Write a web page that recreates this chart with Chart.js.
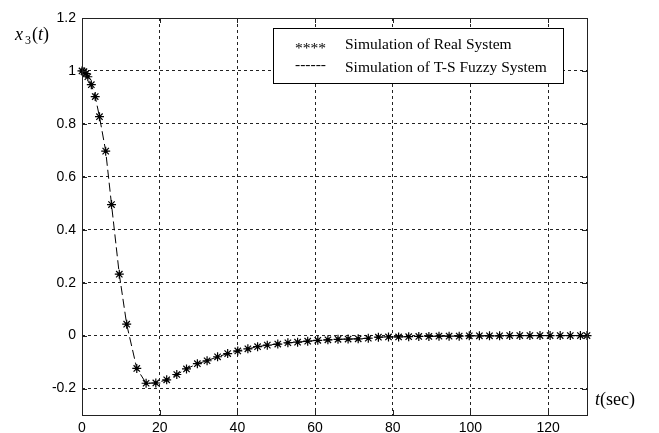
<!DOCTYPE html>
<html>
<head>
<meta charset="utf-8">
<script src="https://cdn.jsdelivr.net/npm/chart.js@4.4.0/dist/chart.umd.min.js"></script>
<style>
  html, body { margin: 0; padding: 0; background: #fff; }
  #wrap { width: 659px; height: 433px; }
</style>
</head>
<body>
<div id="wrap"><canvas id="myChart" width="659" height="433"></canvas></div>
<script>
// time samples (sec)
var timeSec = [0, 0.5, 1.0, 1.5, 2.4, 3.4, 4.5, 6.1, 7.6, 9.6, 11.5, 14.1, 16.5, 19.0,
  21.8, 24.4, 26.9, 29.7, 32.2, 34.9, 37.5, 40.1, 42.7, 45.2, 47.7, 50.4, 53.0, 55.5,
  58.1, 60.7, 63.3, 65.9, 68.5, 71.1, 73.7, 76.3, 78.9, 81.5, 84.1, 86.7, 89.3, 91.9,
  94.5, 97.1, 99.7, 102.3, 104.9, 107.5, 110.1, 112.7, 115.3, 117.9, 120.5, 123.1,
  125.7, 128.3, 130];

// x3(t), real system (stars)
var realX3 = [1.0, 0.997, 0.99, 0.978, 0.948, 0.903, 0.827, 0.697, 0.495, 0.232, 0.043,
  -0.124, -0.180, -0.179, -0.167, -0.147, -0.126, -0.106, -0.095, -0.080, -0.068, -0.058,
  -0.050, -0.042, -0.036, -0.032, -0.027, -0.025, -0.021, -0.018, -0.016, -0.014, -0.013,
  -0.012, -0.010, -0.006, -0.005, -0.005, -0.004, -0.003, -0.003, -0.002, -0.002, -0.002,
  -0.001, -0.001, -0.001, -0.001, 0, 0, 0, 0, 0, 0, 0, 0, 0];

// x3(t), T-S fuzzy system (dashed line)
var fuzzyX3 = [1.0, 0.997, 0.99, 0.978, 0.948, 0.903, 0.827, 0.697, 0.495, 0.232, 0.043,
  -0.124, -0.180, -0.179, -0.167, -0.147, -0.126, -0.106, -0.095, -0.080, -0.068, -0.058,
  -0.050, -0.042, -0.036, -0.032, -0.027, -0.025, -0.021, -0.018, -0.016, -0.014, -0.013,
  -0.012, -0.010, -0.006, -0.005, -0.005, -0.004, -0.003, -0.003, -0.002, -0.002, -0.002,
  -0.001, -0.001, -0.001, -0.001, 0, 0, 0, 0, 0, 0, 0, 0, 0];

var xTicks = [0, 20, 40, 60, 80, 100, 120];
var yTicks = [-0.2, 0, 0.2, 0.4, 0.6, 0.8, 1, 1.2];
var legendLabels = ["Simulation of Real System", "Simulation of T-S Fuzzy System"];
var legendSymbols = ["****", "------"];

function toPoints(xs, ys) {
  var pts = [];
  for (var i = 0; i < xs.length; i++) {
    pts.push({x: xs[i], y: ys[i]});
  }
  return pts;
}

/* frame, inner ticks, legend box and axis titles */
var decoPlugin = {
  id: 'deco',
  afterDraw: function(chart) {
    var ctx = chart.ctx;
    var a = chart.chartArea;
    var xs = chart.scales.x, ys = chart.scales.y;
    ctx.save();
    ctx.strokeStyle = '#222';
    ctx.lineWidth = 1;
    ctx.setLineDash([]);
    ctx.strokeRect(Math.round(a.left) + 0.5, Math.round(a.top) + 0.5,
      Math.round(a.right - a.left), Math.round(a.bottom - a.top));
    ctx.beginPath();
    xTicks.forEach(function(t) {
      var px = Math.round(xs.getPixelForValue(t)) + 0.5;
      ctx.moveTo(px, a.bottom); ctx.lineTo(px, a.bottom - 5);
      ctx.moveTo(px, a.top); ctx.lineTo(px, a.top + 5);
    });
    yTicks.forEach(function(t) {
      var py = Math.round(ys.getPixelForValue(t)) + 0.5;
      ctx.moveTo(a.left, py); ctx.lineTo(a.left + 5, py);
      ctx.moveTo(a.right, py); ctx.lineTo(a.right - 5, py);
    });
    ctx.stroke();

    // legend
    ctx.fillStyle = '#fff';
    ctx.fillRect(273, 28, 290, 55);
    ctx.strokeStyle = '#000';
    ctx.strokeRect(273.5, 28.5, 290, 55);
    ctx.fillStyle = '#000';
    ctx.font = '15.5px "Liberation Serif"';
    ctx.textBaseline = 'alphabetic';
    ctx.textAlign = 'left';
    for (var i = 0; i < legendLabels.length; i++) {
      var by = 49 + i * 23;
      ctx.fillText(legendSymbols[i], 295, by + (i === 1 ? -3 : 4));
      ctx.fillText(legendLabels[i], 345, by);
    }

    // axis titles
    ctx.font = 'italic 18px "Liberation Serif"';
    ctx.fillText('x', 15, 40);
    ctx.font = '12px "Liberation Serif"';
    ctx.fillText('3', 25, 44);
    ctx.font = '18px "Liberation Serif"';
    ctx.fillText('(', 32, 40);
    ctx.font = 'italic 18px "Liberation Serif"';
    ctx.fillText('t', 38, 40);
    ctx.font = '18px "Liberation Serif"';
    ctx.fillText(')', 43, 40);

    ctx.font = 'italic 18px "Liberation Serif"';
    ctx.fillText('t', 595, 405);
    ctx.font = '18px "Liberation Serif"';
    ctx.fillText('(sec)', 600, 405);
    ctx.restore();
  }
};

var canvas = document.getElementById('myChart');
var chart = new Chart(canvas, {
  type: 'scatter',
  data: {
    datasets: [
      {
        label: legendLabels[1],
        data: toPoints(timeSec, fuzzyX3),
        showLine: true,
        borderColor: '#000',
        borderWidth: 1,
        borderDash: [9, 4],
        pointRadius: 0,
        tension: 0,
        clip: false
      },
      {
        label: legendLabels[0],
        data: toPoints(timeSec, realX3),
        showLine: false,
        pointStyle: 'star',
        pointRadius: 4.5,
        borderColor: '#000',
        borderWidth: 1.2,
        backgroundColor: '#000',
        clip: false
      },
      {
        label: 'dots',
        data: toPoints(timeSec, realX3),
        showLine: false,
        pointStyle: 'circle',
        pointRadius: 1.7,
        borderWidth: 0,
        backgroundColor: '#000',
        clip: false
      }
    ]
  },
  options: {
    responsive: false,
    animation: false,
    devicePixelRatio: 1,
    layout: { padding: { left: 0, top: 18, right: 72, bottom: 0 } },
    plugins: {
      legend: { display: false },
      tooltip: { enabled: false },
      title: { display: false }
    },
    scales: {
      x: {
        type: 'linear',
        min: 0,
        max: 130,
        afterBuildTicks: function(scale) {
          scale.ticks = xTicks.map(function(v) { return {value: v}; });
        },
        afterFit: function(scale) { scale.height = 18; },
        grid: { color: '#222', lineWidth: 1, drawTicks: false },
        border: { display: false, dash: [3, 3] },
        ticks: {
          padding: 5,
          color: '#000',
          font: { family: 'Liberation Sans', size: 14 },
          maxRotation: 0
        }
      },
      y: {
        type: 'linear',
        min: -0.3,
        max: 1.2,
        afterBuildTicks: function(scale) {
          scale.ticks = yTicks.map(function(v) { return {value: v}; });
        },
        afterFit: function(scale) { scale.width = 82; },
        grid: { color: '#222', lineWidth: 1, drawTicks: false },
        border: { display: false, dash: [3, 3] },
        ticks: {
          padding: 6,
          color: '#000',
          font: { family: 'Liberation Sans', size: 14 },
          callback: function(v) { return String(Math.round(v * 10) / 10); }
        }
      }
    }
  },
  plugins: [decoPlugin]
});
</script>
</body>
</html>
